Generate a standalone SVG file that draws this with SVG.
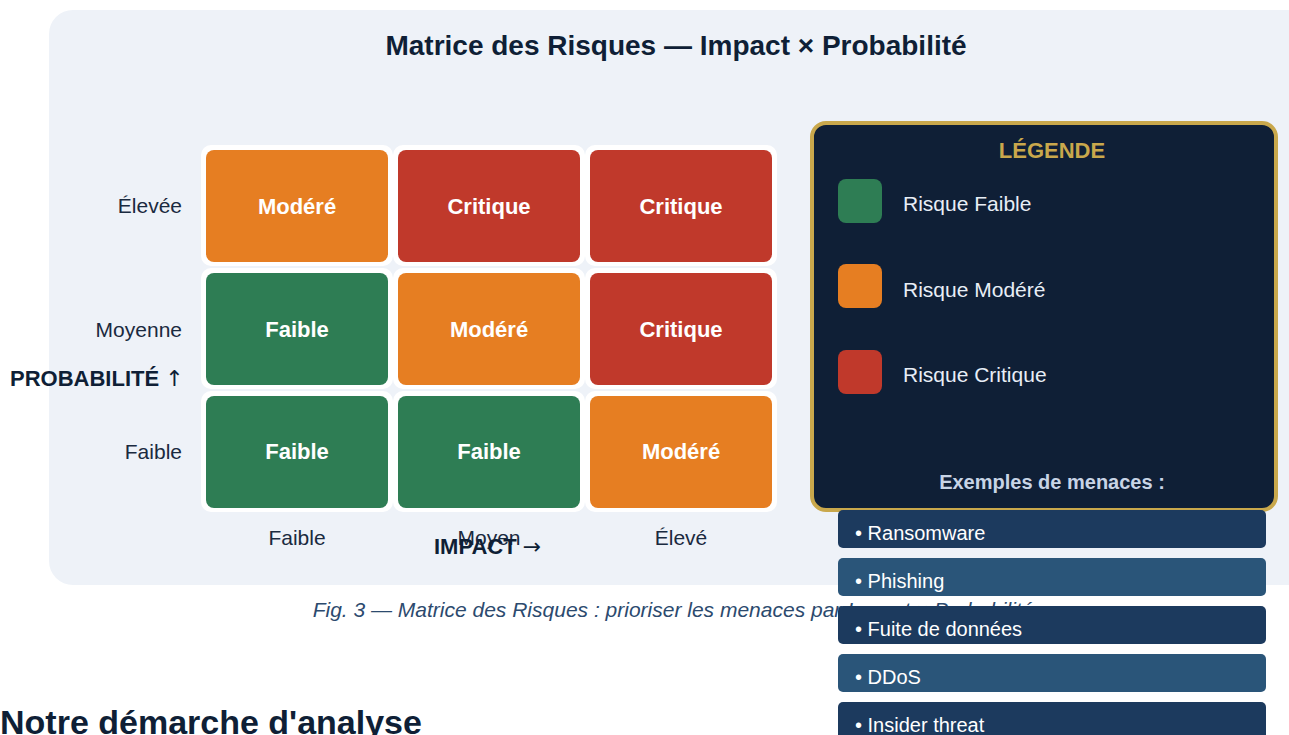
<svg xmlns="http://www.w3.org/2000/svg" width="1289" height="735" viewBox="0 0 1289 735">
<style>
text{font-family:"Liberation Sans",Arial,sans-serif}
.arr{font-family:"DejaVu Sans",sans-serif;font-weight:normal}
.bk{fill:#ffffff}
.low{fill:#2e7d54}
.mod{fill:#e67e22}
.crit{fill:#c0392b}
.ct{font-size:22px;font-weight:bold;fill:#ffffff;text-anchor:middle}
.ax{font-size:21px;fill:#1a2a40}
.lg{font-size:21px;fill:#e8eef6}
.li{font-size:20px;fill:#ffffff}
.ia{fill:#1c3a5e}
.ib{fill:#2a5579}
</style>
<rect width="1289" height="735" fill="#ffffff"/>
<rect id="panel" x="49" y="10" width="1262" height="575" rx="24" fill="#eef2f8"/>
<text x="676" y="55" font-size="28" font-weight="bold" fill="#0f1f36" text-anchor="middle">Matrice des Risques — Impact × Probabilité</text>

<g id="axis-labels">
<text class="ax" x="182" y="213" text-anchor="end">Élevée</text>
<text class="ax" x="182" y="337" text-anchor="end">Moyenne</text>
<text class="ax" x="182" y="459" text-anchor="end">Faible</text>
<text class="ax" x="297" y="545" text-anchor="middle">Faible</text>
<text class="ax" x="489" y="545" text-anchor="middle">Moyen</text>
<text class="ax" x="681" y="545" text-anchor="middle">Élevé</text>
<text x="434" y="554" font-size="22" fill="#0f1f36"><tspan font-weight="bold">IMPACT</tspan> <tspan class="arr">→</tspan></text>
<text x="10" y="386" font-size="22" fill="#0f1f36"><tspan font-weight="bold">PROBABILITÉ</tspan> <tspan class="arr">↑</tspan></text>
</g>

<g id="cell-r1c1"><rect class="bk" x="201" y="145" width="192" height="121" rx="10"/><rect class="mod" x="206" y="150" width="182" height="112" rx="8"/><text class="ct" x="297" y="214">Modéré</text></g>
<g id="cell-r1c2"><rect class="bk" x="393" y="145" width="192" height="121" rx="10"/><rect class="crit" x="398" y="150" width="182" height="112" rx="8"/><text class="ct" x="489" y="214">Critique</text></g>
<g id="cell-r1c3"><rect class="bk" x="585" y="145" width="192" height="121" rx="10"/><rect class="crit" x="590" y="150" width="182" height="112" rx="8"/><text class="ct" x="681" y="214">Critique</text></g>
<g id="cell-r2c1"><rect class="bk" x="201" y="268" width="192" height="121" rx="10"/><rect class="low" x="206" y="273" width="182" height="112" rx="8"/><text class="ct" x="297" y="337">Faible</text></g>
<g id="cell-r2c2"><rect class="bk" x="393" y="268" width="192" height="121" rx="10"/><rect class="mod" x="398" y="273" width="182" height="112" rx="8"/><text class="ct" x="489" y="337">Modéré</text></g>
<g id="cell-r2c3"><rect class="bk" x="585" y="268" width="192" height="121" rx="10"/><rect class="crit" x="590" y="273" width="182" height="112" rx="8"/><text class="ct" x="681" y="337">Critique</text></g>
<g id="cell-r3c1"><rect class="bk" x="201" y="391" width="192" height="121" rx="10"/><rect class="low" x="206" y="396" width="182" height="112" rx="8"/><text class="ct" x="297" y="459">Faible</text></g>
<g id="cell-r3c2"><rect class="bk" x="393" y="391" width="192" height="121" rx="10"/><rect class="low" x="398" y="396" width="182" height="112" rx="8"/><text class="ct" x="489" y="459">Faible</text></g>
<g id="cell-r3c3"><rect class="bk" x="585" y="391" width="192" height="121" rx="10"/><rect class="mod" x="590" y="396" width="182" height="112" rx="8"/><text class="ct" x="681" y="459">Modéré</text></g>

<text x="673" y="617" font-size="21" font-style="italic" fill="#2c4a6e" text-anchor="middle">Fig. 3 — Matrice des Risques : prioriser les menaces par Impact × Probabilité</text>

<g id="legend">
<rect x="812" y="123" width="464" height="387" rx="14" fill="#0f1f36" stroke="#c9a84c" stroke-width="4"/>
<text x="1052" y="158" font-size="22" font-weight="bold" fill="#c9a84c" text-anchor="middle">LÉGENDE</text>
<rect class="low" x="838" y="179" width="44" height="44" rx="8"/>
<text class="lg" x="903" y="211">Risque Faible</text>
<rect class="mod" x="838" y="264" width="44" height="44" rx="8"/>
<text class="lg" x="903" y="297">Risque Modéré</text>
<rect class="crit" x="838" y="350" width="44" height="44" rx="8"/>
<text class="lg" x="903" y="382">Risque Critique</text>
<text x="1052" y="489" font-size="20" font-weight="bold" fill="#c8d4e6" text-anchor="middle">Exemples de menaces :</text>
</g>

<g id="threats">
<g id="t1"><rect class="ia" x="838" y="510" width="428" height="38" rx="5"/><text class="li" x="855" y="540">• Ransomware</text></g>
<g id="t2"><rect class="ib" x="838" y="558" width="428" height="38" rx="5"/><text class="li" x="855" y="588">• Phishing</text></g>
<g id="t3"><rect class="ia" x="838" y="606" width="428" height="38" rx="5"/><text class="li" x="855" y="636">• Fuite de données</text></g>
<g id="t4"><rect class="ib" x="838" y="654" width="428" height="38" rx="5"/><text class="li" x="855" y="684">• DDoS</text></g>
<g id="t5"><rect class="ia" x="838" y="702" width="428" height="38" rx="5"/><text class="li" x="855" y="732">• Insider threat</text></g>
</g>

<text x="0" y="734" font-size="34" font-weight="bold" fill="#0f1f36">Notre démarche d'analyse</text>
</svg>
